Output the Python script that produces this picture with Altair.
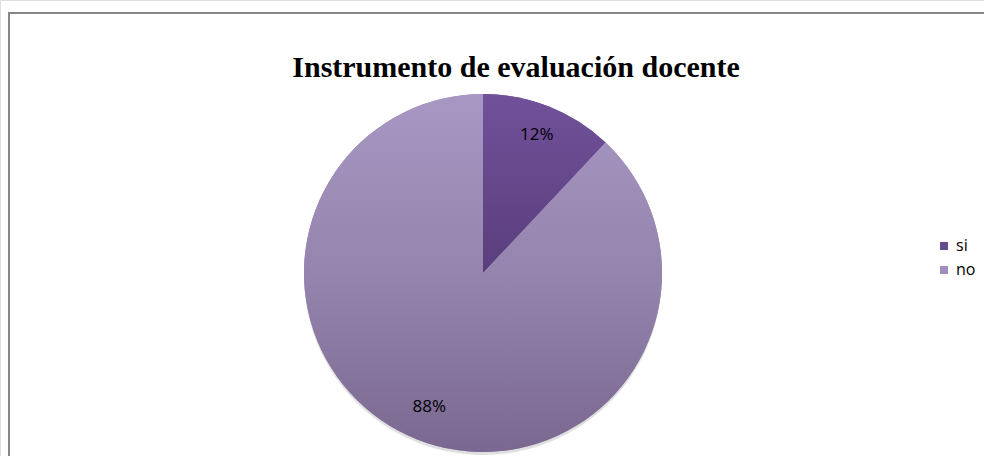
import altair as alt
import pandas as pd

categories = ["si", "no"]
values = [12, 88]
labels = ["12%", "88%"]
order = [0, 1]

title_text = "Instrumento de evaluación docente"

df = pd.DataFrame({"cat": categories, "value": values, "label": labels, "idx": order})

CX, CY, R = 483, 273, 179

grad_si = {
    "gradient": "linear", "x1": 0, "y1": 0, "x2": 0, "y2": 1,
    "stops": [{"offset": 0, "color": "#71519a"}, {"offset": 1, "color": "#5a3e7c"}],
}
grad_no = {
    "gradient": "linear", "x1": 0, "y1": 0, "x2": 0, "y2": 1,
    "stops": [{"offset": 0, "color": "#a897c3"}, {"offset": 0.5, "color": "#9584ad"}, {"offset": 1, "color": "#7a6890"}],
}

base = alt.Chart(df)

theta = alt.Theta("value:Q", stack=True)
ord_ = alt.Order("idx:Q")

shadow = base.mark_arc(outerRadius=R, color="#000000", opacity=0.12).encode(
    theta=theta, order=ord_, x=alt.value(CX), y=alt.value(CY + 3)
)

solid = base.mark_arc(outerRadius=R).encode(
    theta=theta,
    order=ord_,
    x=alt.value(CX),
    y=alt.value(CY),
    color=alt.Color(
        "cat:N",
        scale=alt.Scale(domain=categories, range=["#674a90", "#a08dbb"]),
        sort=categories,
        legend=alt.Legend(
            title=None,
            orient="none",
            legendX=936,
            legendY=238,
            symbolType="square",
            symbolSize=64,
            symbolStrokeWidth=0,
            labelFont="Open Sans",
            labelFontSize=16,
            labelColor="#000000",
            rowPadding=8,
            labelOffset=4,
        ),
    ),
)

grad = base.mark_arc(outerRadius=R).encode(
    theta=theta,
    order=ord_,
    x=alt.value(CX),
    y=alt.value(CY),
    fill=alt.condition(alt.datum.cat == "si", alt.value(grad_si), alt.value(grad_no)),
)

text = base.mark_text(radius=146, font="Open Sans", fontSize=17, color="#000000").encode(
    theta=theta, order=ord_, x=alt.value(CX), y=alt.value(CY - 2), text="label:N"
)

title = alt.Chart(pd.DataFrame({"t": [title_text]})).mark_text(
    font="Liberation Serif", fontSize=30, fontWeight="bold", color="#000000",
    align="center", baseline="alphabetic",
).encode(x=alt.value(516), y=alt.value(77), text="t:N")

frame = alt.Chart(pd.DataFrame({"a": [0]}))
border_top = frame.mark_rule(stroke="#878787", strokeWidth=2).encode(
    x=alt.value(8), x2=alt.value(1200), y=alt.value(13)
)
border_left = frame.mark_rule(stroke="#878787", strokeWidth=2).encode(
    x=alt.value(9), y=alt.value(12), y2=alt.value(600)
)

chart = alt.layer(border_top, border_left, shadow, solid, grad, text, title).properties(
    width=984, height=456, padding=0, autosize=alt.AutoSizeParams(type="none")
).configure_view(strokeWidth=0, stroke="transparent", clip=False).configure(background="#ffffff")

chart.save("out.html", embed_options={"renderer": "svg", "actions": False})
